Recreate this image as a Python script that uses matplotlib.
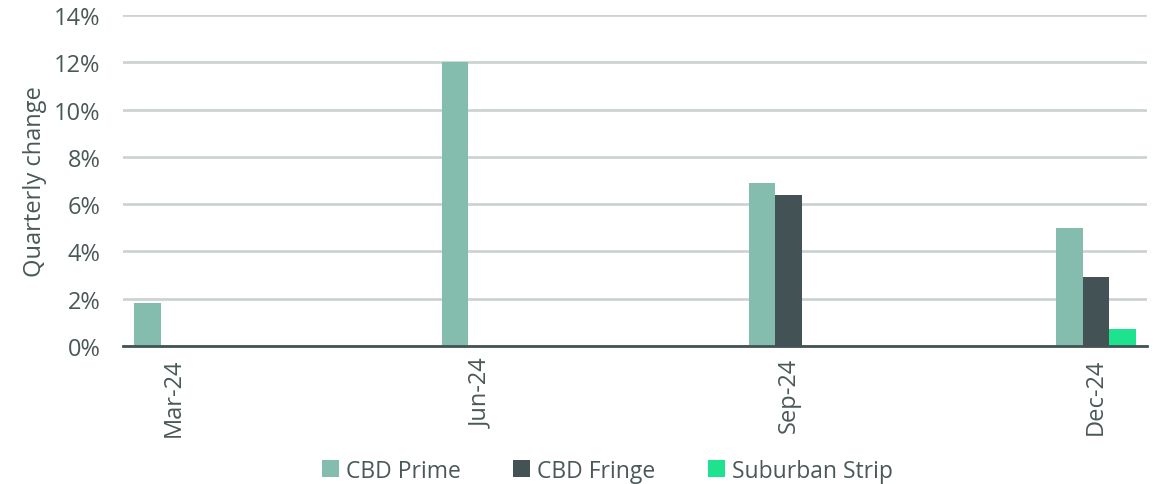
import numpy as np
import matplotlib.pyplot as plt
from matplotlib.patches import Patch
from matplotlib.ticker import FuncFormatter

quarters = ["Mar-24", "Jun-24", "Sep-24", "Dec-24"]
cbd_prime = [1.8, 12.0, 6.9, 5.0]
cbd_fringe = [0.0, 0.0, 6.4, 2.9]
suburban_strip = [0.0, 0.0, 0.0, 0.7]

series_names = ["CBD Prime", "CBD Fringe", "Suburban Strip"]
colors = ["#84BCAE", "#435254", "#1DE38F"]
text_color = "#4A5858"

plt.rcParams["font.family"] = ["Open Sans", "DejaVu Sans"]

fig = plt.figure(figsize=(11.59, 4.85), dpi=100)
ax = fig.add_axes([0.106, 0.2845, 0.8836, 0.6825])

x = np.arange(len(quarters))
w = 0.086
for i, (vals, c) in enumerate(zip([cbd_prime, cbd_fringe, suburban_strip], colors)):
    ax.bar(x + (i - 1) * w, vals, width=w, color=c, zorder=3)

ax.set_xlim(-0.166, 3.166)
ax.set_ylim(0, 14)
ax.set_yticks(np.arange(0, 15, 2))
ax.yaxis.set_major_formatter(FuncFormatter(lambda v, _: f"{v:.0f}%"))
ax.set_xticks(x)
ax.set_xticklabels(quarters, rotation=90)

ax.grid(axis="y", color="#CDD3D3", linewidth=2, zorder=0)
for side in ["top", "right", "left"]:
    ax.spines[side].set_visible(False)
ax.spines["bottom"].set_color("#435254")
ax.spines["bottom"].set_linewidth(2)
ax.spines["bottom"].set_zorder(4)
ax.tick_params(axis="both", length=0, labelsize=17, colors=text_color, pad=8)
ax.tick_params(axis="y", pad=16)

ax.set_ylabel("Quarterly change", fontsize=17, color=text_color, labelpad=5)

handles = [Patch(facecolor=c, label=n) for n, c in zip(series_names, colors)]
leg = fig.legend(handles=handles, loc="lower center", bbox_to_anchor=(0.524, -0.04),
                 ncol=3, frameon=False, fontsize=16.5, handlelength=0.75, handleheight=0.75,
                 handletextpad=0.3, columnspacing=2.3)
for t in leg.get_texts():
    t.set_color(text_color)

fig.savefig("out.png", dpi=100)
